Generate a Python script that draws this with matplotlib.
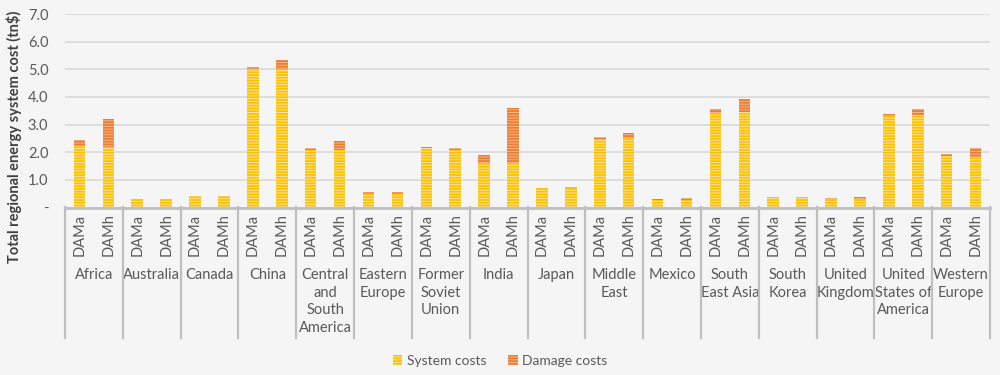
import matplotlib
matplotlib.use("Agg")
import matplotlib.pyplot as plt
import matplotlib.transforms as mtransforms
from matplotlib.patches import Patch
import numpy as np

regions = ["Africa", "Australia", "Canada", "China", "Central\nand\nSouth\nAmerica",
           "Eastern\nEurope", "Former\nSoviet\nUnion", "India", "Japan", "Middle\nEast",
           "Mexico", "South\nEast Asia", "South\nKorea", "United\nKingdom",
           "United\nStates of\nAmerica", "Western\nEurope"]
scenarios = ["DAMa", "DAMh"]

system_dama = [2.24, 0.31, 0.40, 5.02, 2.07, 0.50, 2.14, 1.62, 0.69, 2.49, 0.28, 3.41, 0.38, 0.31, 3.32, 1.86]
damage_dama = [0.19, 0.01, 0.01, 0.05, 0.07, 0.05, 0.04, 0.28, 0.03, 0.05, 0.02, 0.15, 0.01, 0.03, 0.06, 0.08]
system_damh = [2.20, 0.30, 0.40, 5.02, 2.07, 0.50, 2.08, 1.60, 0.69, 2.51, 0.27, 3.46, 0.38, 0.32, 3.36, 1.84]
damage_damh = [1.00, 0.01, 0.01, 0.32, 0.34, 0.07, 0.07, 1.99, 0.05, 0.17, 0.07, 0.47, 0.01, 0.06, 0.22, 0.31]

yticks = [0, 1, 2, 3, 4, 5, 6, 7]
ytick_labels = ["-", "1.0", "2.0", "3.0", "4.0", "5.0", "6.0", "7.0"]

plt.rcParams['font.family'] = ['Lato', 'DejaVu Sans']
plt.rcParams['hatch.linewidth'] = 0.7

BG = "#F5F5F5"
SYS_C = "#FFC000"
SYS_H = "#FCE4A0"
DMG_C = "#ED7D31"
DMG_H = "#F5B58E"
TXT = "#595959"

fig = plt.figure(figsize=(10, 3.75), dpi=100, facecolor=BG)
ax = fig.add_axes([0.065, 1 - 207.5 / 375, 0.925, 193.5 / 375])
ax.set_facecolor(BG)

n = len(regions)
x = np.arange(n)
off = 0.25
w = 0.2
sys_vals = [system_dama, system_damh]
dmg_vals = [damage_dama, damage_damh]
for k, s in enumerate(scenarios):
    pos = x + (off if k == 1 else -off)
    ax.bar(pos, sys_vals[k], width=w, color=SYS_C, edgecolor=SYS_H, linewidth=0,
           hatch='-' * 6, zorder=3)
    ax.bar(pos, dmg_vals[k], width=w, bottom=sys_vals[k], color=DMG_C, edgecolor=DMG_H,
           linewidth=0, hatch='-' * 6, zorder=3)

ax.set_xlim(-0.5, n - 0.5)
ax.set_ylim(0, 7)
ax.set_yticks(yticks)
ax.set_yticklabels(ytick_labels, fontsize=10.5, color=TXT)
ax.tick_params(axis='y', length=0, pad=12)
ax.yaxis.grid(True, color="#D9D9D9", linewidth=1.2, zorder=0)
ax.set_axisbelow(True)
for sp in ["top", "right", "left"]:
    ax.spines[sp].set_visible(False)
ax.spines["bottom"].set_color("#BFBFBF")
ax.spines["bottom"].set_linewidth(2)
ax.spines["bottom"].set_zorder(4)
ax.set_xticks([])

fig.text(14 / 1000, 1 - 137 / 375, "Total regional energy system cost (tn$)", rotation=90,
         ha='center', va='center', fontsize=10.5, color="#404040", fontweight="bold")

trans = mtransforms.blended_transform_factory(ax.transData, fig.transFigure)
for i in range(n + 1):
    ax.plot([i - 0.5, i - 0.5], [1 - 207 / 375, 1 - 338 / 375], transform=trans,
            color="#BFBFBF", linewidth=1.6, clip_on=False, zorder=4)
for i in range(n):
    for k, s in enumerate(scenarios):
        pos = i + (off if k == 1 else -off)
        ax.text(pos, 1 - 235 / 375, s, transform=trans, rotation=90, ha='center',
                va='center', fontsize=10.5, color=TXT)
    ax.text(i, 1 - 268 / 375, regions[i], transform=trans, ha='center', va='top',
            fontsize=10.5, color=TXT, linespacing=1.33, multialignment='center')

handles = [Patch(facecolor=SYS_C, edgecolor=SYS_H, hatch='-' * 6, linewidth=0),
           Patch(facecolor=DMG_C, edgecolor=DMG_H, hatch='-' * 6, linewidth=0)]
fig.legend(handles, ["System costs", "Damage costs"], loc='center',
           bbox_to_anchor=(0.5, 1 - 361 / 375), ncol=2, frameon=False, fontsize=10,
           handlelength=0.7, handleheight=0.7, handletextpad=0.3, columnspacing=1.6,
           labelcolor=TXT)

fig.savefig("out.png", dpi=100, facecolor=BG)
